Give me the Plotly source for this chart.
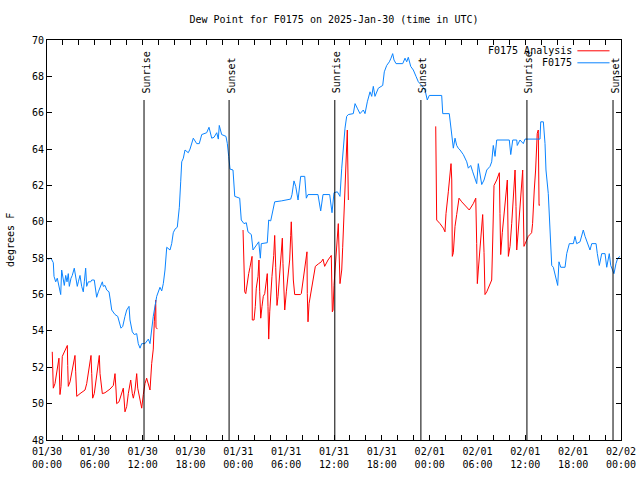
import pandas as pd
import plotly.graph_objects as go

# ---------------- data ----------------
start = pd.Timestamp("2025-01-30 00:00")

obs_hours = [0.0, 0.16, 0.5, 0.79, 0.88, 1.09, 1.29, 1.5, 1.72, 1.84, 2.04, 2.17, 2.35, 2.51, 2.67, 2.8,
             3.01, 3.17, 3.42, 3.6, 3.8, 3.93, 4.14, 4.35, 4.55, 4.68, 4.85, 4.98, 5.18, 5.48, 5.61, 5.93,
             6.02, 6.23, 6.44, 6.65, 6.94, 7.06, 7.28, 7.49, 7.78, 7.94, 8.12, 8.53, 8.87, 9.28, 9.5, 9.78,
             10.0, 10.29, 10.41, 10.7, 10.95, 11.25, 11.45, 11.67, 11.88, 12.29, 12.71, 12.92, 13.33, 13.76,
             14.17, 14.39, 14.59, 14.8, 15.02, 15.43, 15.64, 15.84, 16.06, 16.34, 16.6, 16.77, 16.9, 17.1,
             17.31, 17.72, 17.94, 18.35, 18.78, 19.1, 19.41, 20.03, 20.32, 20.66, 20.95, 21.29, 21.49, 21.61,
             21.91, 22.45, 22.62, 22.79, 22.96, 23.33, 23.55, 24.17, 24.37, 24.71, 25.0, 25.21, 25.63, 25.84,
             26.25, 26.56, 26.76, 26.88, 27.63, 27.81, 28.06, 28.56, 29.39, 30.57, 30.73, 30.98, 31.2, 31.49,
             31.82, 32.33, 32.53, 32.74, 33.99, 34.33, 34.62, 35.46, 35.75, 36.0, 36.42, 36.75, 36.97, 37.17,
             37.38, 37.59, 37.8, 38.42, 38.64, 38.92, 39.26, 39.68, 39.89, 40.18, 40.52, 40.73, 40.93, 41.14,
             41.56, 42.11, 42.31, 42.61, 42.94, 43.15, 43.36, 43.53, 43.78, 44.62, 44.91, 45.12, 45.32, 45.62,
             45.95, 46.29, 46.58, 47.0, 47.42, 47.7, 47.95, 49.51, 49.64, 50.46, 50.64, 50.84, 50.97, 51.18,
             51.39, 51.59, 51.81, 52.22, 52.65, 52.85, 53.15, 53.4, 53.69, 53.9, 54.1, 54.31, 54.53, 54.82,
             55.16, 55.57, 55.78, 55.98, 56.2, 56.41, 57.99, 58.17, 58.42, 58.92, 58.99, 59.33, 59.75, 59.96,
             61.84, 61.93, 62.26, 62.47, 62.59, 62.88, 63.09, 63.31, 63.51, 63.72, 63.94, 64.06, 64.22, 64.44,
             64.98, 65.19, 65.52, 66.02, 66.23, 66.44, 66.86, 67.27, 67.49, 67.78, 68.11, 68.33, 68.87, 69.03,
             69.28, 69.58, 70.0, 70.21, 70.53, 70.71, 70.96, 71.12, 71.37, 71.59, 71.88]
obs_values = [58.0, 57.95, 58.0, 57.75, 57.0, 56.7, 56.9, 56.5, 56.0, 57.35, 56.9, 56.5, 57.05, 56.7, 57.15, 56.45,
              56.9, 57.05, 57.45, 57.05, 56.45, 56.7, 57.05, 56.45, 56.15, 56.7, 57.45, 56.45, 56.7, 56.7, 56.8, 56.8,
              56.45, 55.85, 56.15, 56.35, 56.7, 56.45, 56.5, 56.25, 56.15, 55.7, 55.15, 54.9, 54.8, 54.15, 54.25, 54.8,
              55.15, 55.35, 54.6, 53.95, 53.8, 53.85, 53.3, 53.05, 53.3, 53.3, 53.55, 53.3, 54.8, 55.9,
              56.4, 56.2, 56.6, 57.35, 58.6, 58.45, 58.8, 59.4, 59.6, 59.7, 60.8, 62.2, 63.3, 63.5,
              63.95, 63.8, 64.0, 64.6, 64.3, 64.3, 64.8, 64.9, 65.2, 64.6, 64.65, 64.9, 64.55, 65.3,
              64.8, 64.7, 64.3, 63.6, 62.9, 62.85, 61.4, 61.3, 60.1, 59.9, 59.95, 59.45, 59.3, 58.45,
              58.7, 58.9, 58.0, 58.8, 58.85, 60.1, 60.05, 61.1, 61.15, 61.25, 61.5, 62.25, 61.95, 61.2,
              62.5, 62.5, 61.3, 61.5, 61.5, 60.6, 61.5, 61.5, 60.5, 61.6, 61.65, 61.4, 62.95, 64.2,
              65.15, 65.8, 65.9, 65.95, 66.5, 66.25, 65.95, 66.15, 65.95, 66.6, 67.15, 66.9, 67.45, 66.9,
              67.35, 67.5, 68.25, 68.6, 68.8, 69.0, 69.25, 68.9, 68.7, 68.7, 69.0, 68.8, 69.05, 68.55,
              68.35, 68.0, 67.7, 67.5, 67.25, 66.7, 66.95, 66.95, 65.95, 65.95, 65.25, 64.6, 64.05, 64.6,
              64.2, 64.05, 63.95, 63.7, 63.3, 62.95, 63.1, 62.75, 62.3, 62.1, 63.2, 62.5, 62.05, 62.3,
              62.85, 63.05, 63.3, 64.2, 63.6, 64.5, 64.5, 63.7, 64.5, 64.5, 64.2, 64.5, 64.3, 64.55,
              64.55, 65.5, 65.5, 64.3, 62.85, 61.55, 59.2, 57.6, 57.5, 57.15, 56.8, 56.5, 57.8, 57.5,
              57.5, 58.25, 58.8, 58.8, 59.2, 58.8, 58.9, 59.55, 59.2, 58.8, 58.45, 58.8, 58.8, 58.25,
              57.6, 58.25, 58.25, 57.5, 58.25, 57.6, 57.35, 57.15, 57.7, 58.0, 58.1]

ana_hours = [0.66, 0.79, 1.0, 1.22, 1.42, 1.5, 1.63, 1.76, 1.92, 2.17, 2.38, 2.55, 2.6, 2.67, 2.89, 3.1, 3.39,
             3.51, 3.6, 3.73, 4.14, 4.55, 4.77, 4.98, 5.18, 5.39, 5.52, 5.61, 5.73, 5.93, 6.23, 6.44, 6.56,
             6.65, 6.77, 6.94, 7.28, 7.9, 8.32, 8.53, 8.66, 8.74, 9.03, 9.37, 9.57, 9.78, 10.0, 10.2, 10.5,
             10.7, 10.83, 11.04, 11.25, 11.38, 11.67, 11.88, 12.08, 12.29, 12.5, 12.71, 12.92, 13.13, 13.33,
             13.46, 13.55, 13.64, 13.67, 13.84,
             None,
             24.59, 24.67, 24.8, 24.93, 25.09, 25.3, 25.46, 25.63, 25.72, 25.75, 25.97, 26.13, 26.25, 26.47,
             26.59, 26.68, 26.81, 26.97, 27.13, 27.31, 27.51, 27.63, 27.72, 27.81, 27.94, 28.06, 28.22, 28.44,
             28.56, 28.69, 28.85, 28.98, 29.19, 29.39, 29.52, 29.6, 29.82, 30.02, 30.23, 30.44, 30.57, 30.64,
             30.77, 30.9, 31.07, 31.77, 31.9, 32.11, 32.33, 32.53, 32.61, 32.65, 32.74, 32.87, 33.08, 33.24,
             33.45, 33.66, 34.08, 34.41, 34.62, 34.83, 35.25, 35.54, 35.66, 35.79, 35.88, 36.0, 36.16, 36.29,
             36.41, 36.54, 36.75, 36.97, 37.09, 37.26, 37.38, 37.51, 37.59, 37.67, 37.8,
             None,
             48.76, 48.8, 48.88, 49.3, 49.71, 49.92, 50.05, 50.34, 50.46, 50.55, 50.68, 50.77, 50.84, 50.97,
             51.18, 51.39, 51.68, 52.02, 52.43, 52.97, 53.47, 53.78, 53.9, 53.98, 54.1, 54.31, 54.53, 54.65,
             54.82, 54.94, 55.16, 55.57, 55.78, 55.91, 56.07, 56.41, 56.74, 56.82, 56.91, 57.11, 57.32, 57.58,
             57.74, 57.87, 58.08, 58.29, 58.49, 58.71, 58.83, 58.92, 59.12, 59.33, 59.54, 59.67, 59.83, 60.08,
             60.37, 60.58, 60.79, 60.91, 60.99, 61.12, 61.29, 61.42, 61.49, 61.62, 61.72, 61.84]
ana_values = [52.85, 50.85, 51.1, 51.85, 52.3, 52.5, 50.5, 50.95, 52.6, 52.85, 53.05, 53.2, 52.1, 50.95, 51.2, 51.65, 52.2,
              52.65, 51.75, 50.4, 50.55, 50.7, 50.75, 51.1, 51.65, 52.3, 52.65, 51.65, 50.3, 50.55, 51.55, 52.0, 52.65,
              51.65, 51.1, 50.55, 50.6, 50.8, 51.0, 51.65, 50.75, 50.0, 50.1, 50.55, 50.85, 49.55, 49.85, 50.55, 51.3,
              50.55, 50.3, 50.75, 51.65, 50.85, 50.1, 49.75, 50.5, 51.1, 51.4, 51.1, 50.75, 52.2, 53.0,
              54.5, 55.3, 55.7, 54.2, 54.1,
              None,
              59.55, 58.0, 56.15, 56.05, 56.6, 57.15, 57.5, 57.9, 58.1, 54.6, 54.6, 55.35, 56.35, 57.0,
              57.9, 56.15, 54.7, 55.35, 55.9, 56.05, 56.8, 57.15, 55.35, 53.55, 55.05, 56.05, 57.0, 58.15,
              59.25, 57.5, 55.4, 55.9, 57.15, 58.1, 59.1, 57.7, 55.15, 56.15, 57.05, 57.9, 59.25, 60.0,
              58.45, 56.8, 56.0, 56.0, 56.05, 56.8, 57.5, 58.15, 58.35, 56.05, 54.5, 55.5, 56.05, 56.6,
              57.15, 57.55, 57.7, 57.8, 57.95, 57.55, 57.9, 58.1, 58.15, 55.05, 55.15, 56.5, 57.5, 58.25,
              59.4, 59.9, 56.6, 57.35, 58.6, 60.3, 61.75, 63.2, 64.3, 65.05, 61.2,
              None,
              65.25, 62.7, 60.1, 59.9, 59.65, 59.45, 60.45, 61.65, 62.3, 62.85, 63.2, 62.3, 58.1, 58.3,
              59.75, 60.4, 61.3, 61.1, 60.9, 60.65, 61.0, 61.3, 58.8, 56.6, 57.35, 58.45, 59.55, 60.4,
              58.3, 56.0, 56.15, 56.6, 56.8, 59.0, 62.0, 62.3, 62.7, 60.45, 58.2, 59.4, 60.3, 61.55,
              62.3, 58.1, 58.65, 59.9, 61.2, 62.85, 60.85, 58.45, 59.55, 60.85, 62.0, 62.85, 58.65, 58.9,
              59.2, 59.3, 59.4, 59.9, 60.85, 61.75, 62.85, 64.2, 64.85, 65.05, 60.9, 60.95]

event_hours = [12.17, 22.84, 36.1, 46.9, 60.2, 71.0]
event_labels = ["Sunrise", "Sunset", "Sunrise", "Sunset", "Sunrise", "Sunset"]

tick_hours = list(range(0, 73, 6))
tick_labels = ["01/30<br>00:00", "01/30<br>06:00", "01/30<br>12:00", "01/30<br>18:00",
               "01/31<br>00:00", "01/31<br>06:00", "01/31<br>12:00", "01/31<br>18:00",
               "02/01<br>00:00", "02/01<br>06:00", "02/01<br>12:00", "02/01<br>18:00",
               "02/02<br>00:00"]
y_ticks = list(range(48, 71, 2))

series_names = ["F0175 Analysis", "F0175"]
series_colors = ["#ff0000", "#0a84ff"]


def to_time(hours):
    return [None if h is None else start + pd.Timedelta(hours=h) for h in hours]


FONT = "DejaVu Sans Mono"

fig = go.Figure()
fig.add_trace(go.Scatter(x=to_time(ana_hours), y=ana_values, mode="lines", name=series_names[0],
                         line=dict(color=series_colors[0], width=1), connectgaps=False))
fig.add_trace(go.Scatter(x=to_time(obs_hours), y=obs_values, mode="lines", name=series_names[1],
                         line=dict(color=series_colors[1], width=1)))

for h, lab in zip(event_hours, event_labels):
    t = start + pd.Timedelta(hours=h)
    fig.add_shape(type="line", xref="x", yref="y", x0=t, x1=t, y0=48, y1=66.7,
                  line=dict(color="black", width=1))
    fig.add_annotation(x=t, y=66.95, xref="x", yref="y", text=lab, textangle=-90,
                       showarrow=False, xanchor="center", yanchor="bottom", xshift=2,
                       font=dict(family=FONT, size=10, color="black"))

# legend drawn gnuplot-style (text right, sample on the right)
for i, (nm, col) in enumerate(zip(series_names, series_colors)):
    yp = 0.973 - i * 0.030
    fig.add_annotation(x=0.918, y=yp, xref="paper", yref="paper", text=nm, showarrow=False,
                       xanchor="right", yanchor="middle", font=dict(family=FONT, size=10, color="black"))
    fig.add_shape(type="line", xref="paper", yref="paper", x0=0.924, x1=0.980, y0=yp, y1=yp,
                  line=dict(color=col, width=1))

fig.add_annotation(x=0, y=0.5, xref="paper", yref="paper", text="degrees F", textangle=-90,
                   showarrow=False, xanchor="center", yanchor="middle", xshift=-37,
                   font=dict(family=FONT, size=10, color="black"))

fig.update_layout(
    width=640, height=480,
    margin=dict(l=47, r=19, t=40, b=40, autoexpand=False),
    paper_bgcolor="white", plot_bgcolor="white",
    showlegend=False,
    title=dict(text="Dew Point for F0175 on 2025-Jan-30 (time in UTC)", x=0.5, xref="paper",
               y=1 - 19 / 480, yref="container", xanchor="center", yanchor="middle",
               font=dict(family=FONT, size=10, color="black")),
    font=dict(family=FONT, size=10, color="black"),
)
fig.update_xaxes(
    range=[start, start + pd.Timedelta(hours=72)], automargin=False,
    tickvals=[start + pd.Timedelta(hours=h) for h in tick_hours], ticktext=tick_labels,
    ticks="inside", ticklen=5, tickcolor="black", showline=True, linecolor="black", linewidth=1,
    mirror="allticks", showgrid=False, zeroline=False, ticklabelstandoff=2,
    minor=dict(dtick=2 * 3600 * 1000, ticks="inside", ticklen=5, tickcolor="black", showgrid=False),
    tickfont=dict(family=FONT, size=10, color="black"),
)
fig.update_yaxes(
    range=[48, 70], tickvals=y_ticks, ticks="inside", ticklen=5, tickcolor="black", automargin=False,
    showline=True, linecolor="black", linewidth=1, mirror="allticks", showgrid=False, zeroline=False,
    tickfont=dict(family=FONT, size=10, color="black"),
)

fig.write_html("out.html", config={"displayModeBar": False},
               post_script="document.body.style.margin='0px';")
